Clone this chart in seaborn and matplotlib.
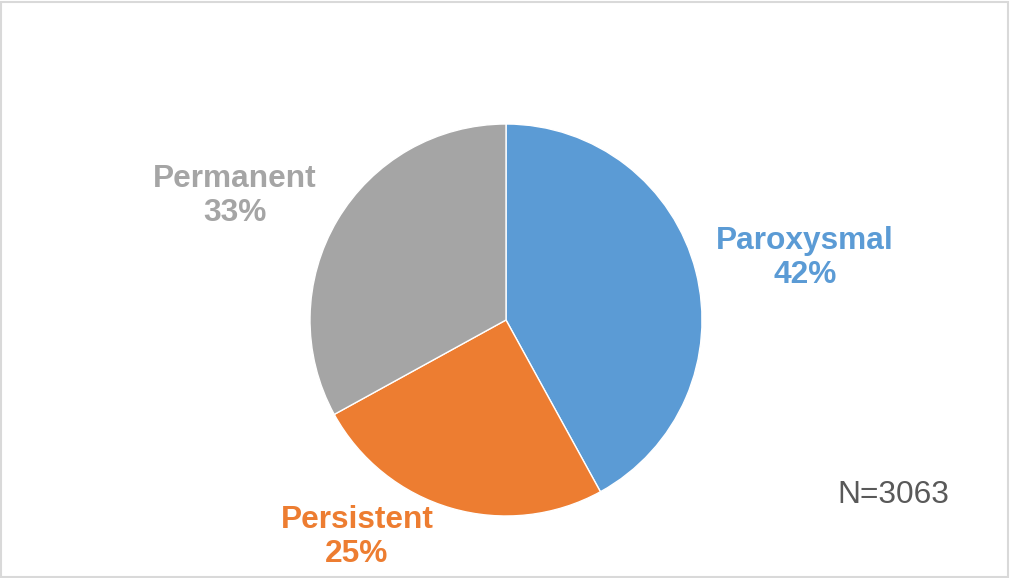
import matplotlib
matplotlib.use("Agg")
import matplotlib.pyplot as plt
import seaborn as sns

categories = ["Paroxysmal", "Persistent", "Permanent"]
values = [42, 25, 33]
colors = ["#5B9BD5", "#ED7D31", "#A5A5A5"]
note = "N=3063"

sns.set_theme(style="white")
plt.rcParams["font.family"] = ["Liberation Sans", "DejaVu Sans"]

W, H = 1010, 578
fig = plt.figure(figsize=(W / 100, H / 100), dpi=100)
fig.patch.set_facecolor("white")

cx, cy, r = 506, 320, 196
ax = fig.add_axes([(cx - r) / W, (H - cy - r) / H, 2 * r / W, 2 * r / H])
wedges, _ = ax.pie(values, colors=colors, startangle=90, counterclock=False,
                   radius=1, wedgeprops=dict(edgecolor="white", linewidth=1))
ax.set_xlim(-1, 1)
ax.set_ylim(-1, 1)
ax.set_aspect("equal")
ax.axis("off")

label_pos = {"Paroxysmal": (1.526, 0.316), "Persistent": (-0.760, -1.107), "Permanent": (-1.383, 0.633)}
for cat, val, col in zip(categories, values, colors):
    x, y = label_pos[cat]
    ax.text(x, y, f"{cat}\n{val}%", color=col, fontsize=22.8, fontweight="bold",
            ha="center", va="center", linespacing=1.17, clip_on=False)

ax.text(1.974, -0.893, note, color="#595959", fontsize=22.8, ha="center", va="center", clip_on=False)

# outer border
from matplotlib.patches import Rectangle
fig.patches.append(Rectangle((1 / W, 1 / H), 1 - 3 / W, 1 - 3 / H, transform=fig.transFigure,
                             fill=False, edgecolor="#D9D9D9", linewidth=1.5))

fig.savefig("out.png", dpi=100, facecolor="white")
